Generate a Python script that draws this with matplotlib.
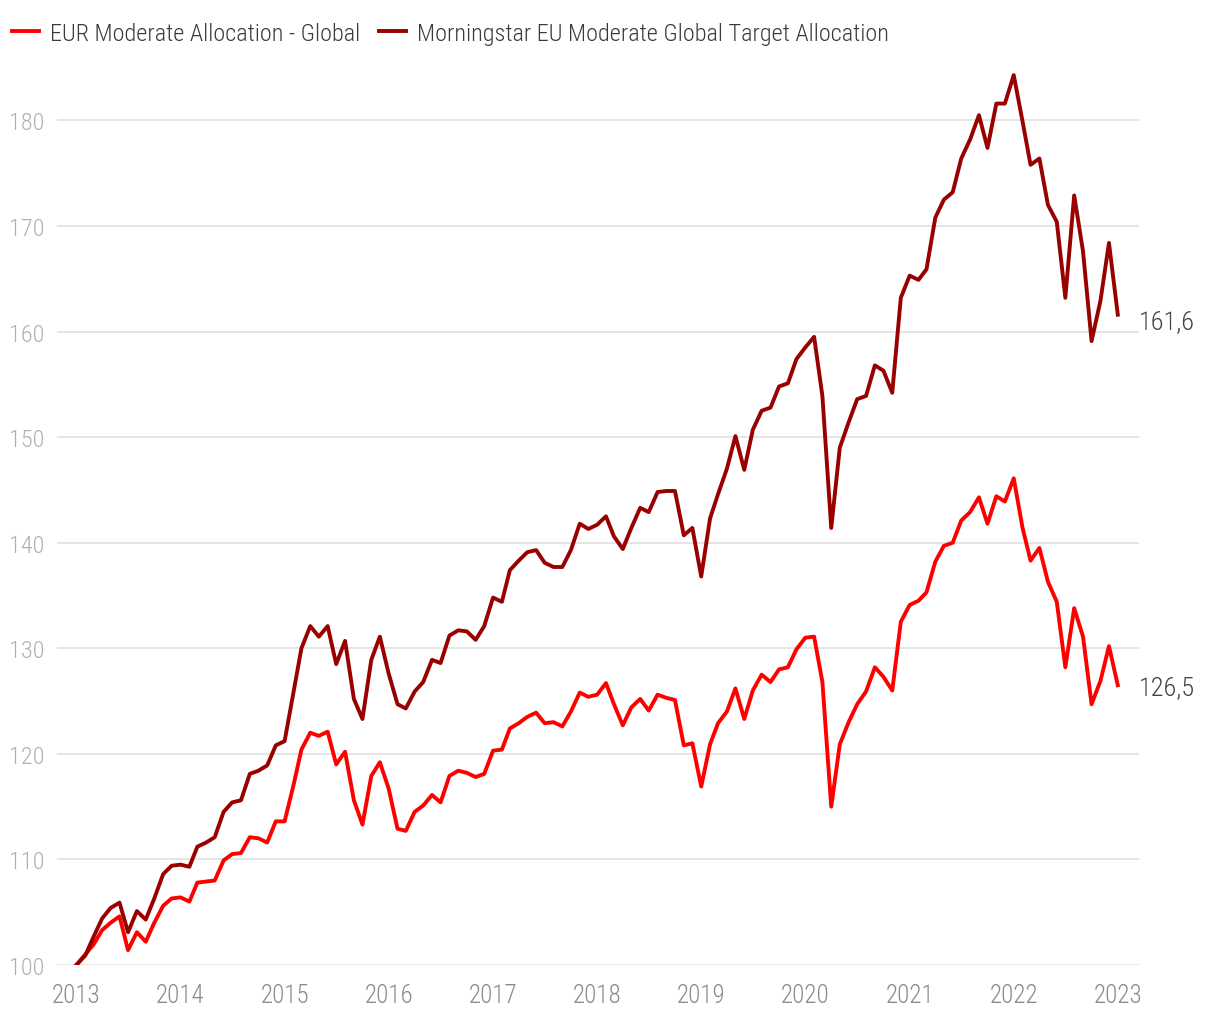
import matplotlib
matplotlib.use("Agg")
import matplotlib.pyplot as plt
import matplotlib.dates as mdates
from matplotlib import font_manager
import pandas as pd

# monthly index values, Jan 2013 .. Jan 2023 (base 100)
fund = [100.0, 101.0, 101.9, 103.3, 104.0, 104.6, 101.4, 103.1, 102.2, 104.0, 105.6, 106.3,
        106.4, 106.0, 107.8, 107.9, 108.0, 109.9, 110.5, 110.6, 112.1, 112.0, 111.6, 113.6,
        113.6, 117.0, 120.4, 122.0, 121.7, 122.1, 119.0, 120.2, 115.6, 113.3, 117.9, 119.2,
        116.7, 112.9, 112.7, 114.5, 115.1, 116.1, 115.4, 117.9, 118.4, 118.2, 117.8, 118.1,
        120.3, 120.4, 122.4, 122.9, 123.5, 123.9, 122.9, 123.0, 122.6, 124.0, 125.8, 125.4,
        125.6, 126.7, 124.7, 122.7, 124.4, 125.2, 124.1, 125.6, 125.3, 125.1, 120.8, 121.0,
        116.9, 120.9, 122.9, 124.0, 126.2, 123.3, 126.0, 127.5, 126.8, 128.0, 128.2, 129.9,
        131.0, 131.1, 126.8, 115.0, 120.9, 123.0, 124.7, 125.9, 128.2, 127.3, 126.0, 132.5,
        134.1, 134.5, 135.3, 138.2, 139.7, 140.0, 142.1, 142.9, 144.3, 141.8, 144.4, 143.9,
        146.1, 141.4, 138.3, 139.5, 136.3, 134.4, 128.2, 133.8, 131.1, 124.7, 126.9, 130.2,
        126.5]
index = [100.0, 100.9, 102.6, 104.4, 105.4, 105.9, 103.1, 105.1, 104.3, 106.3, 108.6, 109.4,
         109.5, 109.3, 111.2, 111.6, 112.1, 114.5, 115.4, 115.6, 118.1, 118.4, 118.9, 120.8,
         121.2, 125.8, 130.0, 132.1, 131.1, 132.1, 128.5, 130.7, 125.2, 123.3, 128.9, 131.1,
         127.6, 124.7, 124.3, 125.9, 126.8, 128.9, 128.6, 131.2, 131.7, 131.6, 130.8, 132.1,
         134.8, 134.4, 137.4, 138.3, 139.1, 139.3, 138.1, 137.7, 137.7, 139.3, 141.8, 141.3,
         141.7, 142.5, 140.6, 139.4, 141.4, 143.3, 142.9, 144.8, 144.9, 144.9, 140.7, 141.4,
         136.8, 142.3, 144.6, 147.0, 150.1, 146.9, 150.7, 152.5, 152.8, 154.8, 155.1, 157.4,
         158.5, 159.5, 153.9, 141.4, 149.0, 151.4, 153.6, 153.9, 156.8, 156.3, 154.2, 163.2,
         165.3, 164.9, 165.9, 170.8, 172.5, 173.2, 176.4, 178.2, 180.5, 177.4, 181.6, 181.6,
         184.3, 179.9, 175.8, 176.4, 172.0, 170.4, 163.2, 172.9, 167.6, 159.1, 162.9, 168.4,
         161.6]
dates = pd.date_range("2013-01-01", periods=len(fund), freq="MS")
labels = ["EUR Moderate Allocation - Global", "Morningstar EU Moderate Global Target Allocation"]
end_labels = ["126,5", "161,6"]
years = list(range(2013, 2024))
yticks = list(range(100, 190, 10))

# pick a narrow font if one exists
names = {f.name for f in font_manager.fontManager.ttflist}
font = "DejaVu Sans"
for cand in ["Roboto Condensed", "Liberation Sans Narrow", "Open Sans Condensed", "Roboto"]:
    if cand in names:
        font = cand
        break
plt.rcParams["font.family"] = [font, "DejaVu Sans"]
plt.rcParams["font.weight"] = "light"

fig = plt.figure(figsize=(12.2, 10.2), dpi=100)
ax = fig.add_axes([0.047, 0.053, 0.887, 0.890])

red = "#ff0000"
dark = "#990000"
ax.plot(dates, fund, color=red, lw=2.8, label=labels[0], zorder=3)
ax.plot(dates, index, color=dark, lw=2.8, label=labels[1], zorder=3)

ax.set_ylim(100, 186)
ax.set_xlim(pd.Timestamp("2012-10-26"), pd.Timestamp("2023-03-18"))
ax.set_yticks(yticks)
ax.set_xticks([pd.Timestamp(f"{y}-01-01") for y in years])
ax.xaxis.set_major_formatter(mdates.DateFormatter("%Y"))
ax.grid(axis="y", color="#e3e3e3", lw=1.3, zorder=0)
ax.grid(axis="x", visible=False)
for s in ax.spines.values():
    s.set_visible(False)
ax.tick_params(axis="both", length=0)
ax.tick_params(axis="y", labelsize=17.5, labelcolor="#b0b0b0", pad=9)
ax.tick_params(axis="x", labelsize=18, labelcolor="#8a8a8a", pad=13)

ax.text(dates[-1] + pd.Timedelta(days=75), fund[-1] - 0.2, end_labels[0], fontsize=19,
        color="#444444", va="center", ha="left")
ax.text(dates[-1] + pd.Timedelta(days=75), index[-1] - 0.6, end_labels[1], fontsize=19,
        color="#444444", va="center", ha="left")

fig.legend(loc="upper left", bbox_to_anchor=(-0.008, 0.999), ncol=2, frameon=False,
           fontsize=17.5, handlelength=1.1, handletextpad=0.45, columnspacing=0.8,
           labelcolor="#3a3a3a")

fig.savefig("out.png", dpi=100)
